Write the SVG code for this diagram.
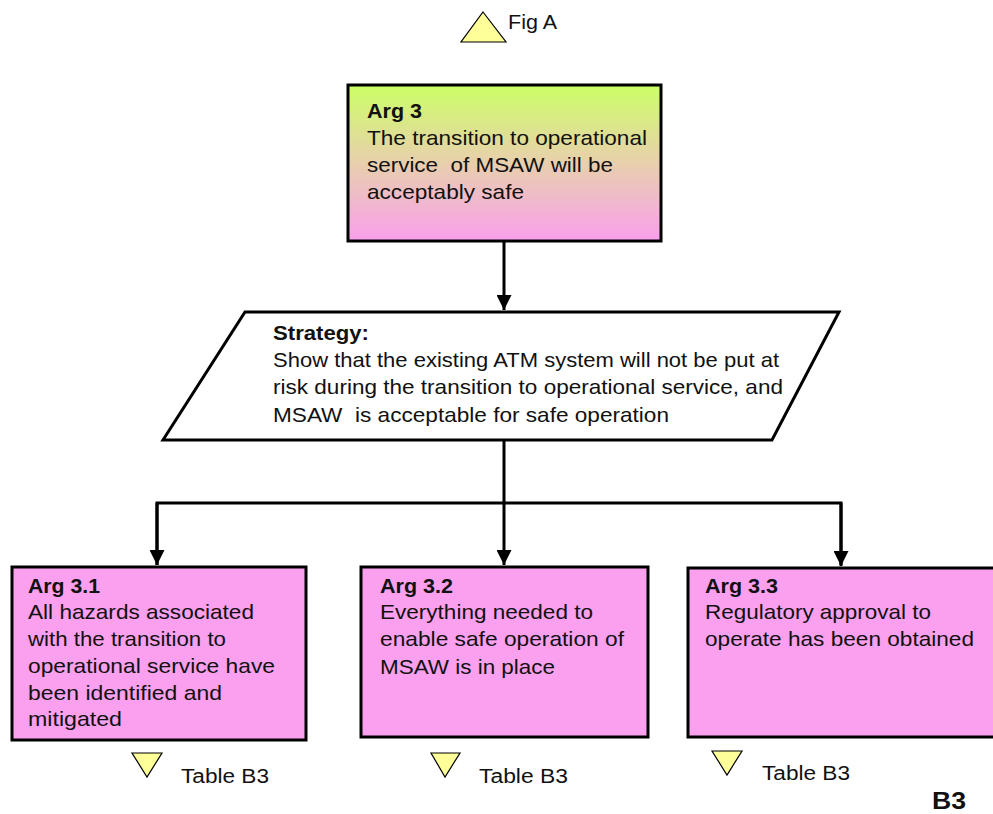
<svg xmlns="http://www.w3.org/2000/svg" width="993" height="814" viewBox="0 0 993 814">
  <defs>
    <linearGradient id="topGrad" x1="0" y1="0" x2="0" y2="1">
      <stop offset="0" stop-color="#ccff66"/>
      <stop offset="0.45" stop-color="#e6d4a6"/>
      <stop offset="1" stop-color="#faa0ee"/>
    </linearGradient>
    <marker id="arrow" viewBox="0 0 10 10" refX="10" refY="5" markerWidth="5" markerHeight="5" orient="auto" markerUnits="strokeWidth">
      <path d="M0,0 L10,5 L0,10 z" fill="#000"/>
    </marker>
  </defs>
  <style>
    text { font-family: "Liberation Sans", Arial, sans-serif; fill: #111; }
    .body { font-size: 21px; }
    .bold { font-size: 21px; font-weight: bold; }
    .narrow { font-family: "Liberation Sans Narrow", "Liberation Sans", Arial, sans-serif; font-size: 21px; }
    .small { font-size: 20px; }
    .box { stroke: #000; stroke-width: 3; }
    .goal { fill: #faa0ee; }
    .ref { fill: #ffff99; stroke: #000; stroke-width: 1.2; }
    .conn { fill: none; stroke: #000; stroke-width: 3; }
  </style>

  <rect width="993" height="814" fill="#fff"/>

  <!-- connectors -->
  <g id="connectors">
    <line class="conn" x1="504" y1="242" x2="504" y2="310" marker-end="url(#arrow)"/>
    <polyline class="conn" points="504,440 504,503"/>
    <polyline class="conn" points="157,565 157,503 841,503 841,565"/>
    <line class="conn" x1="157" y1="503" x2="157" y2="565" marker-end="url(#arrow)"/>
    <line class="conn" x1="504" y1="503" x2="504" y2="565" marker-end="url(#arrow)"/>
    <line class="conn" x1="841" y1="503" x2="841" y2="566" marker-end="url(#arrow)"/>
  </g>

  <!-- away reference to Fig A -->
  <g id="ref-figA">
    <polygon class="ref" points="483,12 506,42 461,42"/>
    <text class="small" x="508" y="29" textLength="49" lengthAdjust="spacingAndGlyphs">Fig A</text>
  </g>

  <!-- top claim -->
  <g id="arg3">
    <rect class="box" x="348" y="85" width="313" height="156" fill="url(#topGrad)"/>
    <text class="bold" x="367" y="118" textLength="55" lengthAdjust="spacingAndGlyphs">Arg 3</text>
    <text class="body" x="367" y="145" textLength="280" lengthAdjust="spacingAndGlyphs">The transition to operational</text>
    <text class="body" x="367" y="172" xml:space="preserve" textLength="246" lengthAdjust="spacingAndGlyphs">service  of MSAW will be</text>
    <text class="body" x="367" y="199" textLength="157" lengthAdjust="spacingAndGlyphs">acceptably safe</text>
  </g>

  <!-- strategy -->
  <g id="strategy">
    <polygon points="245,312 839,312 772,440 163,440" fill="#fff" stroke="#000" stroke-width="3"/>
    <text class="narrow" font-weight="bold" x="273" y="340" textLength="96" lengthAdjust="spacingAndGlyphs">Strategy:</text>
    <text class="narrow" x="273" y="367" textLength="506" lengthAdjust="spacingAndGlyphs">Show that the existing ATM system  will not be put at</text>
    <text class="narrow" x="273" y="394" textLength="510" lengthAdjust="spacingAndGlyphs">risk during the transition to operational service, and</text>
    <text class="narrow" x="273" y="422" textLength="396" lengthAdjust="spacingAndGlyphs" xml:space="preserve">MSAW  is acceptable for safe operation</text>
  </g>

  <!-- sub-claims -->
  <g id="arg3-1">
    <rect class="box goal" x="12" y="567" width="294" height="173"/>
    <text class="bold" x="28" y="593" textLength="72" lengthAdjust="spacingAndGlyphs">Arg 3.1</text>
    <text class="body" x="28" y="619" textLength="226" lengthAdjust="spacingAndGlyphs">All hazards associated</text>
    <text class="body" x="28" y="646" textLength="198" lengthAdjust="spacingAndGlyphs">with the transition to</text>
    <text class="body" x="28" y="673" textLength="247" lengthAdjust="spacingAndGlyphs">operational service have</text>
    <text class="body" x="28" y="700" textLength="194" lengthAdjust="spacingAndGlyphs">been identified and</text>
    <text class="body" x="28" y="726" textLength="94" lengthAdjust="spacingAndGlyphs">mitigated</text>
  </g>

  <g id="arg3-2">
    <rect class="box goal" x="361" y="567" width="287" height="170"/>
    <text class="bold" x="380" y="593" textLength="73" lengthAdjust="spacingAndGlyphs">Arg 3.2</text>
    <text class="body" x="380" y="619" textLength="213" lengthAdjust="spacingAndGlyphs">Everything needed to</text>
    <text class="body" x="380" y="646" textLength="244" lengthAdjust="spacingAndGlyphs">enable safe operation of</text>
    <text class="body" x="380" y="674" textLength="175" lengthAdjust="spacingAndGlyphs">MSAW is in place</text>
  </g>

  <g id="arg3-3">
    <rect class="box goal" x="688" y="568" width="310" height="169"/>
    <text class="bold" x="705" y="593" textLength="73" lengthAdjust="spacingAndGlyphs">Arg 3.3</text>
    <text class="body" x="705" y="619" textLength="226" lengthAdjust="spacingAndGlyphs">Regulatory approval to</text>
    <text class="body" x="705" y="646" textLength="269" lengthAdjust="spacingAndGlyphs">operate has been obtained</text>
  </g>

  <!-- away references to Table B3 -->
  <g id="ref-table-1">
    <polygon class="ref" points="132,753 162,753 147,777"/>
    <text class="small" x="181" y="783" textLength="88" lengthAdjust="spacingAndGlyphs">Table B3</text>
  </g>
  <g id="ref-table-2">
    <polygon class="ref" points="431,753 460,753 445,777"/>
    <text class="small" x="479" y="783" textLength="89" lengthAdjust="spacingAndGlyphs">Table B3</text>
  </g>
  <g id="ref-table-3">
    <polygon class="ref" points="712,751 742,751 727,775"/>
    <text class="small" x="762" y="780" textLength="88" lengthAdjust="spacingAndGlyphs">Table B3</text>
  </g>

  <text x="932" y="809" font-size="24" font-weight="bold" textLength="34" lengthAdjust="spacingAndGlyphs">B3</text>
</svg>
